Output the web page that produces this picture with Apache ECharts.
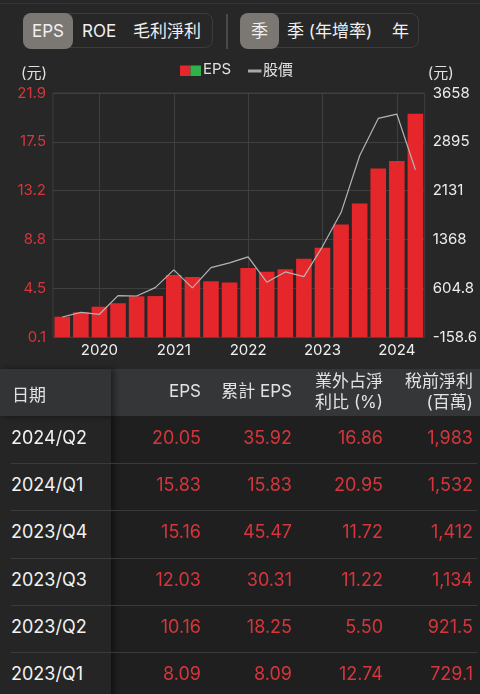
<!DOCTYPE html>
<html><head><meta charset="utf-8">
<script src="https://cdn.jsdelivr.net/npm/echarts@6/dist/echarts.min.js"></script>
<style>
html,body{margin:0;padding:0;width:480px;height:694px;overflow:hidden;background:#272727;font-family:Inter,"Noto Sans CJK TC",sans-serif;}
#chart{position:absolute;left:0;top:0;width:480px;height:368px;}
.topline{position:absolute;left:0;top:3px;width:480px;height:1px;background:#333;}
.grp{position:absolute;top:13px;height:35px;border:1px solid #3c3c3c;border-radius:8px;box-sizing:border-box;}
.btn{position:absolute;top:13px;height:36px;line-height:36px;color:#f0f0f0;font-size:17px;white-space:nowrap;}
.sel{background:#7b7874;border-radius:8px;text-align:center;}
.div{position:absolute;left:226px;top:14px;width:2px;height:35px;background:#4a4a4a;}
#table{position:absolute;left:0;top:369px;width:480px;height:325px;background:#1f1f1f;}
.hdr{position:absolute;left:0;top:0;width:480px;height:47px;background:#353638;}
.lcol{position:absolute;left:0;top:47px;width:111px;height:290px;background:#252525;box-shadow:3px 0 6px rgba(0,0,0,0.45);}
.lhdr{position:absolute;left:0;top:0;width:111px;height:47px;background:#333436;box-shadow:3px 0 6px rgba(0,0,0,0.45);}
.cell{position:absolute;white-space:nowrap;}
.sep{position:absolute;left:11px;width:466px;height:1px;background:#3a3a3a;}
</style></head>
<body>
<div class="topline"></div>
<div class="grp" style="left:23px;width:190px;"></div>
<div class="btn sel" style="left:23px;width:50px;">EPS</div>
<div class="btn" style="left:82px;">ROE</div>
<div class="btn" style="left:133px;">毛利淨利</div>
<div class="div"></div>
<div class="grp" style="left:240px;width:179px;"></div>
<div class="btn sel" style="left:240px;width:39px;">季</div>
<div class="btn" style="left:287px;">季 (年增率)</div>
<div class="btn" style="left:392px;">年</div>
<div id="chart"></div>
<div id="table"></div>
<script>
// ---- chart data ----
const quarters = ['2019Q3','2019Q4','2020Q1','2020Q2','2020Q3','2020Q4','2021Q1','2021Q2','2021Q3','2021Q4','2022Q1','2022Q2','2022Q3','2022Q4','2023Q1','2023Q2','2023Q3','2023Q4','2024Q1','2024Q2'];
const epsValues = [1.94,2.33,2.83,3.14,3.76,3.78,5.67,5.49,5.10,4.98,6.29,5.96,6.18,7.12,8.09,10.16,12.03,15.16,15.83,20.05];
const priceValues = [159,232,201,492,487,617,894,613,930,1004,1097,702,863,790,1259,1790,2677,3261,3329,2458];
const leftTickLabels = ['0.1','4.5','8.8','13.2','17.5','21.9'];
const rightTickLabels = ['-158.6','604.8','1368','2131','2895','3658'];
const leftMin = 0.1, leftMax = 21.9;
const rightMin = -158.6, rightMax = 3658;
const yearMarks = ['2020Q1','2021Q1','2022Q1','2023Q1','2024Q1'];

// ---- table data ----
const tableHeaders = ['日期','EPS','累計 EPS','業外占淨\n利比 (%)','稅前淨利\n(百萬)'];
const tableDates = ['2024/Q2','2024/Q1','2023/Q4','2023/Q3','2023/Q2','2023/Q1'];
const tableEPS = ['20.05','15.83','15.16','12.03','10.16','8.09'];
const tableCumEPS = ['35.92','15.83','45.47','30.31','18.25','8.09'];
const tableNonOp = ['16.86','20.95','11.72','11.22','5.50','12.74'];
const tablePretax = ['1,983','1,532','1,412','1,134','921.5','729.1'];

const RED = '#e5262b';
const GRID = '#3f3f3f';
const leftInt = (leftMax - leftMin) / 5;
const rightInt = (rightMax - rightMin) / 5;

const chart = echarts.init(document.getElementById('chart'), null, {renderer:'canvas'});
chart.setOption({
  backgroundColor: 'transparent',
  animation: false,
  textStyle: {fontFamily: 'Inter, "Noto Sans CJK TC", sans-serif'},
  grid: {left: 53, right: 55, top: 93, bottom: 30.7, show: true, borderColor: GRID, borderWidth: 1},
  graphic: [
    {type:'rect', left:180, top:65.5, shape:{width:10.5, height:10.5}, style:{fill:RED}},
    {type:'rect', left:190.5, top:65.5, shape:{width:10.5, height:10.5}, style:{fill:'#2eb24a'}},
    {type:'text', left:203, top:62, style:{text:'EPS', fill:'#e0e0e0', font:'15px Inter, "Noto Sans CJK TC"'}},
    {type:'rect', left:248, top:69.5, shape:{width:13.5, height:3}, style:{fill:'#a8a8a8'}},
    {type:'text', left:263, top:62, style:{text:'股價', fill:'#e0e0e0', font:'15px "Noto Sans CJK TC"'}}
  ],
  xAxis: {
    type: 'category', data: quarters, boundaryGap: true,
    axisLine: {show: false}, axisTick: {show: false}, splitLine: {show: false},
    axisLabel: {
      color: '#f0f0f0', fontSize: 15, margin: 6,
      interval: (i, v) => v.endsWith('Q1'),
      formatter: v => v.slice(0, 4)
    }
  },
  yAxis: [
    {
      type: 'value', min: leftMin, max: leftMax, interval: leftInt, position: 'left',
      name: '(元)', nameLocation: 'end', nameGap: 12,
      nameTextStyle: {color: '#e0e0e0', fontSize: 15, align: 'right', padding: [0, 6, 0, 0]},
      axisLine: {show: false}, axisTick: {show: false},
      splitLine: {show: true, lineStyle: {color: GRID, width: 1}},
      axisLabel: {
        color: '#d5363b', fontSize: 15, margin: 7,
        formatter: v => leftTickLabels[Math.round((v - leftMin) / leftInt)]
      }
    },
    {
      type: 'value', min: rightMin, max: rightMax, interval: rightInt, position: 'right',
      name: '(元)', nameLocation: 'end', nameGap: 12,
      nameTextStyle: {color: '#e0e0e0', fontSize: 15, align: 'left', padding: [0, 0, 0, 3]},
      axisLine: {show: false}, axisTick: {show: false}, splitLine: {show: false},
      axisLabel: {
        color: '#ececec', fontSize: 15, margin: 8,
        formatter: v => rightTickLabels[Math.round((v - rightMin) / rightInt)]
      }
    }
  ],
  series: [
    {
      name: 'EPS', type: 'bar', data: epsValues, yAxisIndex: 0, barWidth: '84%',
      itemStyle: {color: RED}, z: 2,
      markLine: {
        silent: true, symbol: ['none', 'none'], label: {show: false}, z: 1,
        lineStyle: {color: GRID, width: 1, type: 'solid'},
        data: yearMarks.map(q => ({xAxis: q}))
      }
    },
    {
      name: '股價', type: 'line', data: priceValues, yAxisIndex: 1,
      showSymbol: false, symbol: 'none', z: 3,
      lineStyle: {color: '#b4b4b4', width: 1.2}
    }
  ]
});

// ---- table ----
const t = document.getElementById('table');
let html = '<div class="hdr"></div><div class="lcol"></div><div class="lhdr"></div>';
const rightEdges = [201, 292, 383, 473];
html += `<div class="cell" style="left:12px;top:12px;font-size:17px;color:#e2e2e2;">${tableHeaders[0]}</div>`;
tableHeaders.slice(1).forEach((h, k) => {
  const lines = h.split('\n');
  const top = lines.length === 1 ? 12 : 2;
  html += `<div class="cell" style="right:${480 - rightEdges[k]}px;top:${top}px;font-size:17px;line-height:21px;color:#e2e2e2;text-align:right;">${lines.join('<br>')}</div>`;
});
const rowH = 47.2;
tableDates.forEach((d, r) => {
  const top = 47 + r * rowH;
  if (r > 0) html += `<div class="sep" style="top:${top}px;"></div>`;
  const cy = top + 11;
  html += `<div class="cell" style="left:11px;top:${cy}px;font-size:18px;color:#f2f2f2;">${d}</div>`;
  [tableEPS[r], tableCumEPS[r], tableNonOp[r], tablePretax[r]].forEach((v, k) => {
    html += `<div class="cell" style="right:${480 - rightEdges[k]}px;top:${cy}px;font-size:18px;color:#d6363b;">${v}</div>`;
  });
});
t.innerHTML = html;
</script>
</body></html>
